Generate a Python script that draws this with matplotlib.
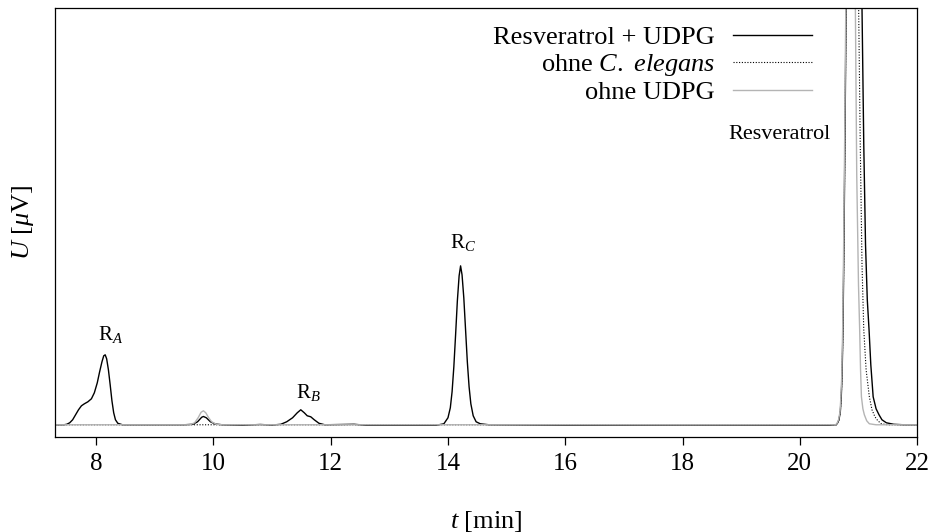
import matplotlib.pyplot as plt

# chromatogram traces (t in min, U in arbitrary uV units)
t_full = [7.30, 7.45, 7.50, 7.55, 7.60, 7.65, 7.70, 7.75, 7.80, 7.86, 7.92, 7.97,
          8.02, 8.06, 8.10, 8.13, 8.155, 8.18, 8.21, 8.24, 8.27, 8.30, 8.33, 8.37,
          8.45, 9.50, 9.65, 9.73, 9.80, 9.83, 9.88, 9.95, 10.03, 10.15, 10.50, 10.80,
          11.00, 11.15, 11.25, 11.35, 11.43, 11.49, 11.55, 11.60, 11.66, 11.72, 11.80,
          11.90, 12.40, 12.60, 13.80, 13.93, 14.00, 14.04, 14.07, 14.10, 14.13, 14.16,
          14.19, 14.215, 14.24, 14.27, 14.30, 14.33, 14.36, 14.39, 14.43, 14.48, 14.55,
          14.70, 16.00, 18.00, 20.50, 20.62, 20.64, 20.667, 20.69, 20.706, 20.72,
          20.735, 20.75, 20.77, 20.79, 20.80, 20.90, 21.04, 21.057, 21.09, 21.12,
          21.15, 21.18, 21.21, 21.25, 21.30, 21.35, 21.40, 21.475, 21.60, 21.77, 22.00]
u_full = [0, 0, 0.5, 2, 5, 10, 15, 19, 21, 23, 26, 32,
          42, 53, 63, 69, 70, 66, 55, 40, 24, 12, 5, 1.5,
          0, 0, 0.5, 3, 7.5, 8.3, 7, 3, 0.8, 0, -0.5, 0.3,
          -0.3, 0.5, 3, 7, 12, 15, 12, 9, 8, 5, 1.5,
          0, 0.5, -0.5, -0.5, 1, 7, 17, 33, 58, 90, 124,
          149, 159, 150, 127, 95, 63, 38, 21, 9, 3, 1,
          0, -0.5, -0.3, -0.5, 0, 1.5, 5, 13, 28, 50,
          95, 170, 290, 430, 700, 3000, 700, 430, 280, 180,
          125, 95, 60, 28, 16, 10, 5, 2, 0.5, 0, 0]

t_no_celegans = [7.30, 14.00, 20.50, 20.62, 20.64, 20.667, 20.69, 20.706, 20.72,
                 20.735, 20.75, 20.77, 20.79, 20.80, 20.88, 20.99, 21.00, 21.03,
                 21.06, 21.09, 21.13, 21.185, 21.23, 21.28, 21.33, 21.39, 21.50, 22.00]
u_no_celegans = [0, 0, 0, 0, 1.5, 5, 13, 28, 50,
                 95, 170, 290, 430, 700, 3000, 700, 430, 280,
                 160, 95, 55, 28, 15, 8, 4, 1, 0, 0]

t_no_udpg = [7.30, 9.60, 9.68, 9.74, 9.79, 9.83, 9.87, 9.92, 9.97, 10.05, 10.15,
             20.50, 20.61, 20.635, 20.66, 20.685, 20.70, 20.715, 20.73, 20.745,
             20.765, 20.785, 20.795, 20.86, 20.935, 20.945, 20.97, 21.00, 21.02,
             21.035, 21.05, 21.075, 21.10, 21.14, 21.185, 21.30, 22.00]
u_no_udpg = [0, 0, 2, 7, 12.5, 14, 12, 7, 3, 0.5, 0,
             0, 0, 1.5, 5, 13, 28, 50, 95, 170,
             290, 430, 700, 3000, 700, 430, 250, 140, 95,
             55, 28, 16, 10, 4, 1, 0, 0]

series_labels = ['Resveratrol + UDPG', 'ohne $\\mathit{C.}$ $\\mathit{elegans}$', 'ohne UDPG']
peak_labels = ['R$_{\\mathit{A}}$', 'R$_{\\mathit{B}}$', 'R$_{\\mathit{C}}$', 'Resveratrol']
peak_label_t = [8.04, 11.41, 14.04, 20.52]
peak_label_u = [85, 27, 177, 290]
x_ticks = [8, 10, 12, 14, 16, 18, 20, 22]

plt.rcParams['font.family'] = ['Liberation Serif', 'DejaVu Serif']
plt.rcParams['mathtext.fontset'] = 'custom'
plt.rcParams['mathtext.rm'] = 'Liberation Serif'
plt.rcParams['mathtext.it'] = 'Liberation Serif:italic'

fig = plt.figure(figsize=(9.33, 5.32), dpi=100)
ax = fig.add_axes([0.059, 0.179, 0.924, 0.806])

ax.plot(t_full, u_full, color='black', lw=1.0, label=series_labels[0])
ax.plot(t_no_celegans, u_no_celegans, color='black', lw=0.8,
        linestyle=(0, (1, 1.5)), label=series_labels[1])
ax.plot(t_no_udpg, u_no_udpg, color='#b4b4b4', lw=1.0, label=series_labels[2])

for lab, tt, uu in zip(peak_labels[:3], peak_label_t[:3], peak_label_u[:3]):
    ax.text(tt, uu, lab, fontsize=15, ha='left', va='baseline')
ax.text(peak_label_t[3], peak_label_u[3], peak_labels[3], fontsize=16,
        ha='right', va='center')

ax.set_xlim(7.3, 22)
ax.set_ylim(-12, 417)
ax.set_xticks(x_ticks)
ax.set_yticks([])
ax.tick_params(axis='x', direction='out', length=6, width=0.9, labelsize=18, pad=6)
for sp in ax.spines.values():
    sp.set_linewidth(0.9)

ax.set_xlabel('$t$ [min]', fontsize=19, labelpad=24)
ax.set_ylabel('$U$ [$\\mu$V]', fontsize=19, labelpad=14)

ax.legend(loc='upper right', bbox_to_anchor=(0.8785, 0.959), frameon=False,
          markerfirst=False, fontsize=19, handlelength=3.0, handletextpad=0.7,
          labelspacing=0.11, borderpad=0, borderaxespad=0)

fig.savefig('out.png', dpi=100)
